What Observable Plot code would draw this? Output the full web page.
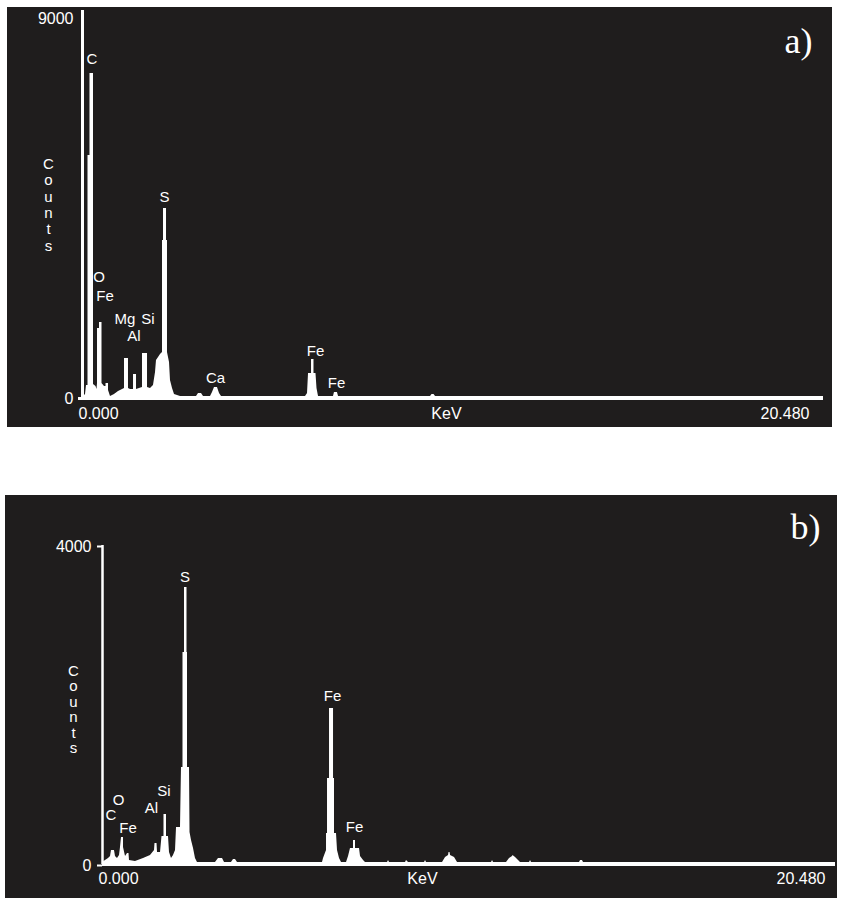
<!DOCTYPE html>
<html><head><meta charset="utf-8">
<script src="https://cdn.jsdelivr.net/npm/d3@7"></script>
<script src="https://cdn.jsdelivr.net/npm/@observablehq/plot@0.6"></script>
<style>
body{margin:0;background:#fff;width:847px;height:908px;position:relative;overflow:hidden}
#a{position:absolute;left:7px;top:7px}
#b{position:absolute;left:5px;top:495px}
svg{display:block}
</style></head><body><div id="a"></div><div id="b"></div>
<script>
// ---- Spectrum a): [energy keV, counts] outline points ----
const spectrumA = [[0,24],[0.083,95],[0.111,308],[0.152,308],[0.152,5762],[0.207,5762],[0.207,7706],[0.304,7706],[0.304,332],[0.373,285],[0.401,213],[0.415,356],[0.415,1660],[0.470,1660],[0.470,1802],[0.539,1802],[0.539,356],[0.608,285],[0.650,285],[0.650,356],[0.719,356],[0.719,190],[0.774,47],[0.884,95],[0.995,166],[1.106,213],[1.161,237],[1.161,948],[1.271,948],[1.271,237],[1.327,213],[1.410,213],[1.410,569],[1.493,569],[1.493,213],[1.575,237],[1.658,261],[1.658,1067],[1.797,1067],[1.797,261],[1.879,237],[1.962,308],[2.018,616],[2.045,901],[2.101,972],[2.156,1043],[2.211,1091],[2.211,3746],[2.239,3746],[2.239,4505],[2.322,4505],[2.322,3746],[2.349,3746],[2.349,1091],[2.405,854],[2.432,427],[2.488,237],[2.543,95],[2.709,47],[3.151,47],[3.206,119],[3.289,119],[3.345,47],[3.538,47],[3.593,142],[3.648,261],[3.731,261],[3.787,119],[3.842,47],[6.164,47],[6.219,119],[6.247,593],[6.330,593],[6.330,925],[6.398,925],[6.398,593],[6.453,593],[6.481,237],[6.523,47],[6.937,47],[6.964,142],[7.047,142],[7.076,47],[9.619,47],[9.660,95],[9.715,95],[9.757,47],[20.48,47]];
const peakNamesA = ["C","O","Fe","Mg","Si","Al","S","Ca","Fe","Fe"];
const peakEnergyA = [0.263,0.456,0.622,1.175,1.810,1.423,2.266,3.676,6.440,7.020];
const peakCountsA = [8038,2869,2418,1873,1873,1470,4766,474,1114,356];
const yTicksA = [0, 9000];
const xTicksA = [0, 10.06, 20.48];

// ---- Spectrum b): [energy keV, counts] outline points ----
const spectrumB = [[0,25],[0.084,50],[0.168,75],[0.224,100],[0.251,176],[0.335,176],[0.363,100],[0.419,75],[0.475,113],[0.503,213],[0.531,339],[0.587,339],[0.587,213],[0.643,100],[0.699,138],[0.740,138],[0.754,50],[0.922,38],[1.146,75],[1.341,113],[1.453,176],[1.467,263],[1.523,263],[1.537,150],[1.621,150],[1.662,351],[1.718,351],[1.718,627],[1.788,627],[1.788,351],[1.844,351],[1.872,150],[1.928,75],[1.984,113],[2.040,176],[2.068,464],[2.179,464],[2.207,1216],[2.249,1216],[2.249,2658],[2.291,2658],[2.291,3474],[2.361,3474],[2.361,2658],[2.375,2658],[2.375,1216],[2.431,1216],[2.445,401],[2.487,301],[2.543,201],[2.598,75],[2.654,25],[3.157,25],[3.241,75],[3.353,75],[3.409,25],[3.604,25],[3.660,63],[3.716,63],[3.772,25],[6.147,25],[6.175,75],[6.259,176],[6.259,389],[6.287,389],[6.287,1078],[6.343,1078],[6.343,1956],[6.455,1956],[6.455,1078],[6.482,1078],[6.482,389],[6.538,389],[6.566,176],[6.622,75],[6.678,25],[6.818,25],[6.874,100],[6.929,201],[7.013,201],[7.013,301],[7.069,301],[7.069,201],[7.181,201],[7.209,100],[7.293,50],[7.348,25],[7.963,25],[7.991,50],[8.019,25],[8.466,25],[8.494,50],[8.550,25],[8.997,25],[9.025,50],[9.053,25],[9.500,25],[9.584,88],[9.668,113],[9.682,150],[9.710,150],[9.724,113],[9.836,88],[9.919,25],[10.869,25],[10.897,50],[10.925,25],[11.288,25],[11.372,75],[11.456,100],[11.470,113],[11.540,88],[11.679,25],[11.931,25],[11.959,50],[11.987,25],[13.328,25],[13.356,50],[13.411,50],[13.439,25],[20.48,25]];
const peakNamesB = ["C","O","Fe","Al","Si","S","Fe","Fe"];
const peakEnergyB = [0.237,0.447,0.712,1.369,1.718,2.305,6.426,7.041];
const peakCountsB = [614,803,451,702,915,3599,2107,464];
const yTicksB = [0, 4000];
const xTicksB = [0, 8.94, 20.48];

const xTickLabels = ["0.000", "KeV", "20.480"];
const yTitle = "Counts";

const BG = "#1f1d1d";
const FONT = "'Liberation Sans', Arial, Helvetica, sans-serif";

function table(s) { return s.map(([e, c]) => ({keV: e, counts: c})); }
function labels(n, e, c) { return n.map((d, i) => ({name: d, keV: e[i], counts: c[i]})); }

function panel(o) {
  return Plot.plot({
    width: o.width, height: o.height,
    marginLeft: o.ml, marginRight: o.mr, marginTop: o.mt, marginBottom: o.mb,
    style: {background: BG, color: "white", fontFamily: FONT, fontSize: "15px", overflow: "visible"},
    x: {domain: [0, 20.48]},
    y: {domain: [0, o.yTop]},
    marks: [
      Plot.area(o.spec, {x1: "keV", y1: 0, y2: "counts", fill: "white", curve: "linear"}),
      Plot.ruleY([0], {x1: o.baseStart, x2: 20.48, stroke: "white", strokeWidth: 3}),
      Plot.ruleX([0], {y1: 0, y2: o.axisTop, stroke: "white", strokeWidth: o.axisWidth}),
      Plot.axisY({ticks: o.yTicks, tickFormat: "d", tickSize: o.yTickSize, tickPadding: o.yPad, strokeWidth: 2, fontSize: 16, label: null, dy: o.yDy}),
      Plot.axisX({ticks: [o.xTicks[0]], tickFormat: () => xTickLabels[0], tickSize: 0, tickPadding: o.xPad, textAnchor: "start", dx: -4, fontSize: 16, label: null}),
      Plot.axisX({ticks: [o.xTicks[1]], tickFormat: () => xTickLabels[1], tickSize: 0, tickPadding: o.xPad, textAnchor: "middle", fontSize: 16, label: null}),
      Plot.axisX({ticks: [o.xTicks[2]], tickFormat: () => xTickLabels[2], tickSize: 0, tickPadding: o.xPad, textAnchor: "end", dx: o.endDx, fontSize: 16, label: null}),
      Plot.text(o.labels, {x: "keV", y: "counts", text: "name", fill: "white", fontSize: 15, lineAnchor: "middle"}),
      Plot.text([yTitle.split("").join("\n")], {frameAnchor: "left", dx: o.countsDx, dy: o.countsDy, fill: "white", fontSize: 15, lineHeight: o.countsLH, textAnchor: "middle"}),
      Plot.text([o.tag], {frameAnchor: "top-right", textAnchor: "end", lineAnchor: "bottom", dx: o.tagDx, dy: o.tagDy, fontFamily: "'Liberation Serif', 'Times New Roman', serif", fontSize: 36, fill: "white"})
    ]
  });
}

document.getElementById("a").append(panel({
  width: 825, height: 420, ml: 75, mr: 9, mt: 3, mb: 29, yTop: 9200,
  spec: table(spectrumA), labels: labels(peakNamesA, peakEnergyA, peakCountsA),
  baseStart: -0.11, axisTop: 9200, axisWidth: 3, yTicks: yTicksA, yTickSize: 0, yPad: 9, yDy: 0,
  xTicks: xTicksA, xPad: 9, endDx: -14, countsDx: -34, countsDy: 0, countsLH: 1.09,
  tag: "a)", tagDx: -11, tagDy: 42
}));

document.getElementById("b").append(panel({
  width: 832, height: 403, ml: 97, mr: 2, mt: 50, mb: 34, yTop: 4000,
  spec: table(spectrumB), labels: labels(peakNamesB, peakEnergyB, peakCountsB),
  baseStart: 0, axisTop: 4000, axisWidth: 2.5, yTicks: yTicksB, yTickSize: 5, yPad: 6, yDy: 1,
  xTicks: xTicksB, xPad: 8, endDx: -10, countsDx: -29, countsDy: 4.5, countsLH: 1.03,
  tag: "b)", tagDx: -15, tagDy: -7
}));
</script></body></html>
